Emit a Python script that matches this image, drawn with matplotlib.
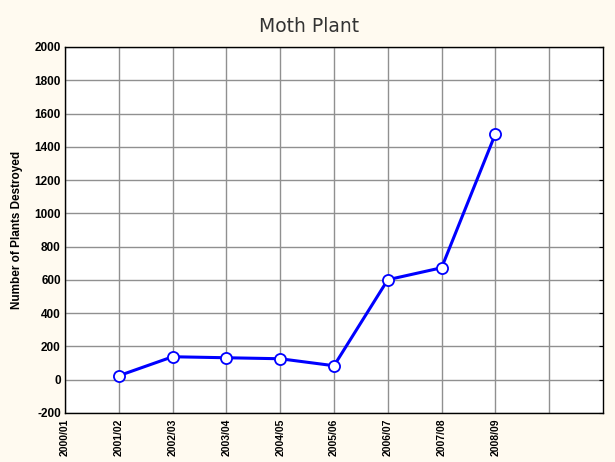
import matplotlib
matplotlib.use("Agg")
import matplotlib.pyplot as plt

seasons = ["2000/01", "2001/02", "2002/03", "2003/04", "2004/05", "2005/06",
           "2006/07", "2007/08", "2008/09"]
plot_seasons = ["2001/02", "2002/03", "2003/04", "2004/05", "2005/06",
                "2006/07", "2007/08", "2008/09"]
plants_destroyed = [24, 138, 132, 126, 84, 601, 673, 1478]
y_ticks = [-200, 0, 200, 400, 600, 800, 1000, 1200, 1400, 1600, 1800, 2000]

fig = plt.figure(figsize=(6.15, 4.62), dpi=100, facecolor="#fffaf0")
ax = fig.add_axes([0.1057, 0.1061, 0.9805 - 0.1057, 0.8983 - 0.1061])
ax.set_facecolor("white")

xpos = [seasons.index(s) for s in plot_seasons]
ax.plot(xpos, plants_destroyed, color="#0000ff", linewidth=2.2, marker="o",
        markersize=8, markerfacecolor="white", markeredgecolor="#0000ff",
        markeredgewidth=1.3, zorder=3)

ax.set_xlim(0, 10)
ax.set_ylim(-200, 2000)
ax.set_xticks(range(10))
ax.set_xticklabels(seasons + [""], rotation=90, fontsize=7.5,
                   fontweight="bold", family="Liberation Sans")
ax.set_yticks(y_ticks)
ax.set_yticklabels([str(v) for v in y_ticks], fontsize=8.5,
                   fontweight="bold", family="Liberation Sans")
ax.grid(True, color="#909090", linewidth=1.0)
ax.set_axisbelow(True)
ax.tick_params(axis="x", length=0, pad=4)
ax.tick_params(axis="y", left=False, right=True, direction="in", length=3, pad=3)
for sp in ax.spines.values():
    sp.set_color("black")
    sp.set_linewidth(1.0)

ax.set_ylabel("Number of Plants Destroyed", fontsize=8.5, fontweight="bold",
              family="Liberation Sans", labelpad=8)
fig.text(0.502, 0.942, "Moth Plant", ha="center", va="center", fontsize=13.5,
         color="#333333", family="DejaVu Sans")

fig.savefig("out.png", dpi=100, facecolor=fig.get_facecolor())
